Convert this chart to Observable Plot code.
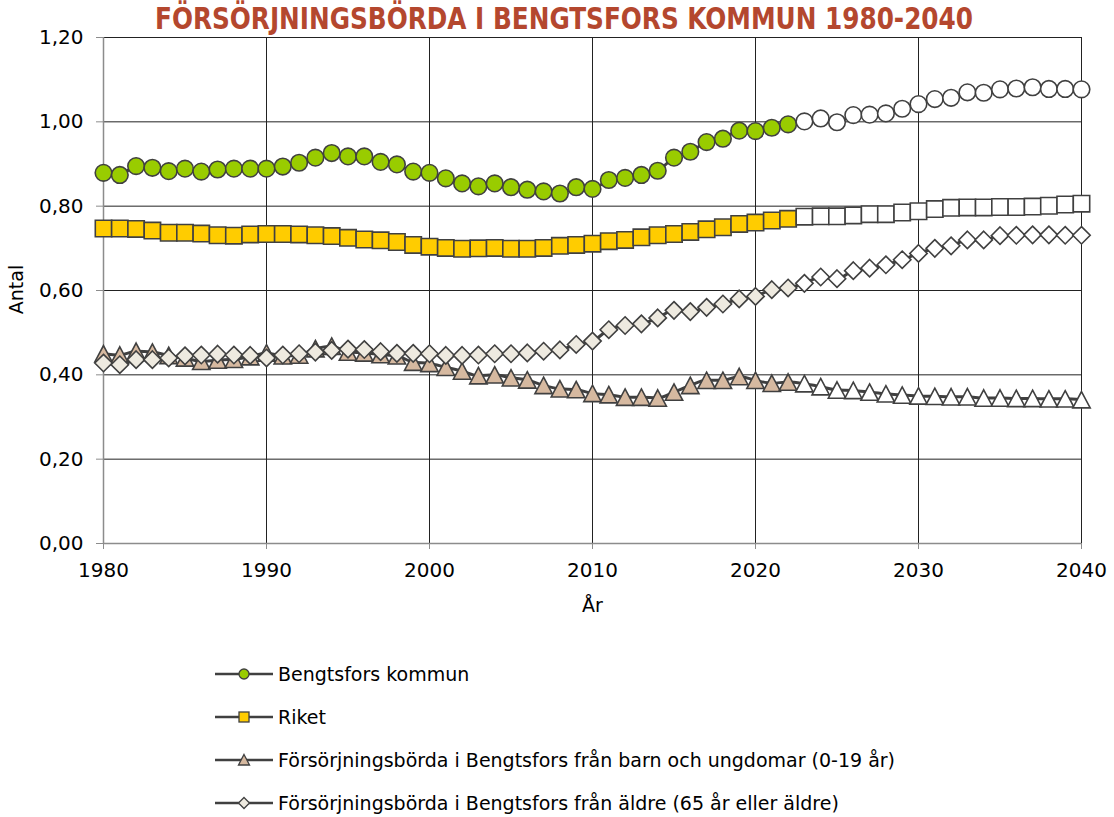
<!DOCTYPE html>
<html>
<head>
<meta charset="utf-8">
<script src="https://cdn.jsdelivr.net/npm/d3@7"></script>
<script src="https://cdn.jsdelivr.net/npm/@observablehq/plot@0.6"></script>
<style>
  html, body { margin: 0; padding: 0; background: #fff; }
  #wrap { position: relative; width: 1114px; height: 817px; overflow: hidden; font-family: "DejaVu Sans", sans-serif; }
  #chart { position: absolute; left: 0; top: 0; }
  #title { position: absolute; left: 0; top: 0; }
  #legend { position: absolute; left: 214px; top: 652px; }
  .row { display: flex; align-items: center; height: 43px; font-size: 19px; color: #000; }
  .row svg { margin-right: 4px; }
</style>
</head>
<body>
<div id="wrap">
  <div id="chart"></div>
  <svg id="title" width="1114" height="36">
    <text x="564" y="29" text-anchor="middle" font-family="'Liberation Sans Narrow','DejaVu Sans Condensed',sans-serif" font-weight="bold" font-size="31" fill="#B4472E" textLength="818" lengthAdjust="spacingAndGlyphs">FÖRSÖRJNINGSBÖRDA I BENGTSFORS KOMMUN 1980-2040</text>
  </svg>
  <div id="legend"></div>
</div>
<script>
// ---- Data ----
const years = d3.range(1980, 2041);
const lastObserved = 2022;

const seriesNames = [
  "Bengtsfors kommun",
  "Riket",
  "Försörjningsbörda i Bengtsfors från barn och ungdomar (0-19 år)",
  "Försörjningsbörda i Bengtsfors från äldre (65 år eller äldre)"
];

const bengtsfors = [
  0.879,0.874,0.895,0.891,0.883,0.889,0.882,0.887,0.889,0.889,
  0.889,0.894,0.903,0.915,0.926,0.918,0.918,0.905,0.899,0.882,
  0.879,0.866,0.854,0.847,0.854,0.845,0.839,0.835,0.830,0.845,
  0.841,0.862,0.867,0.874,0.884,0.915,0.929,0.952,0.960,0.979,
  0.978,0.986,0.994,1.001,1.008,0.999,1.016,1.017,1.020,1.031,
  1.042,1.054,1.057,1.070,1.069,1.077,1.079,1.082,1.078,1.078,
  1.077
];

const riket = [
  0.747,0.747,0.746,0.742,0.737,0.737,0.735,0.731,0.730,0.733,
  0.734,0.734,0.733,0.731,0.729,0.725,0.721,0.719,0.715,0.708,
  0.704,0.701,0.699,0.700,0.701,0.699,0.699,0.701,0.706,0.708,
  0.711,0.717,0.720,0.726,0.731,0.734,0.739,0.745,0.750,0.758,
  0.761,0.766,0.770,0.775,0.776,0.776,0.778,0.781,0.781,0.785,
  0.788,0.793,0.796,0.797,0.797,0.798,0.798,0.799,0.801,0.804,
  0.806
];

const barnUngdom = [
  0.450,0.447,0.456,0.454,0.446,0.440,0.432,0.435,0.437,0.443,
  0.452,0.445,0.447,0.462,0.468,0.454,0.452,0.448,0.445,0.430,
  0.427,0.418,0.409,0.398,0.400,0.393,0.388,0.375,0.367,0.365,
  0.356,0.353,0.347,0.347,0.345,0.359,0.375,0.387,0.387,0.396,
  0.387,0.380,0.383,0.379,0.372,0.364,0.363,0.359,0.355,0.352,
  0.350,0.349,0.348,0.348,0.345,0.345,0.344,0.344,0.343,0.343,
  0.341
];

const aldre = [
  0.428,0.424,0.436,0.436,0.440,0.445,0.447,0.449,0.447,0.446,
  0.440,0.447,0.450,0.454,0.458,0.461,0.460,0.455,0.451,0.451,
  0.450,0.446,0.446,0.447,0.450,0.450,0.452,0.456,0.459,0.472,
  0.480,0.507,0.517,0.521,0.535,0.553,0.550,0.560,0.568,0.580,
  0.586,0.602,0.606,0.617,0.632,0.628,0.647,0.653,0.661,0.673,
  0.688,0.700,0.706,0.720,0.720,0.730,0.731,0.732,0.732,0.731,
  0.731
];

const xTicks = [1980, 1990, 2000, 2010, 2020, 2030, 2040];
const yTicks = [0, 0.2, 0.4, 0.6, 0.8, 1.0, 1.2];

// ---- Styles ----
const fills = ["#99CC00", "#FFCC00", "#D6B9A0", "#EEEAE0"];
const lineColor = "#404040";

// custom marker shapes (half-extent r derived from Plot's size = r²π)
const circleSym = { draw(ctx, size) { const r = Math.sqrt(size / Math.PI); ctx.moveTo(r, 0); ctx.arc(0, 0, r, 0, 2 * Math.PI); } };
const squareSym = { draw(ctx, size) { const r = Math.sqrt(size / Math.PI); ctx.rect(-r, -r, 2 * r, 2 * r); } };
const triSym = { draw(ctx, size) { const r = Math.sqrt(size / Math.PI); ctx.moveTo(0, -r); ctx.lineTo(r * 1.06, r); ctx.lineTo(-r * 1.06, r); ctx.closePath(); } };
const diaSym = { draw(ctx, size) { const r = Math.sqrt(size / Math.PI); ctx.moveTo(0, -r); ctx.lineTo(r, 0); ctx.lineTo(0, r); ctx.lineTo(-r, 0); ctx.closePath(); } };
const symbols = [circleSym, squareSym, triSym, diaSym];
const radii = [8.3, 8.2, 8.2, 8.7];

const allValues = [bengtsfors, riket, barnUngdom, aldre];
const data = allValues.map((vals, s) => years.map((yr, i) => ({ series: s, year: yr, value: vals[i] })));

const fmt = d => d.toFixed(2).replace(".", ",");

const marks = [
  Plot.gridY(yTicks.slice(1, -1), { stroke: "#222", strokeOpacity: 1, strokeWidth: 1 }),
  Plot.gridX(xTicks.slice(1, -1), { stroke: "#222", strokeOpacity: 1, strokeWidth: 1 }),
  Plot.ruleY([1.2], { stroke: "#222" }),
  Plot.ruleX([2040], { stroke: "#222" }),
  Plot.ruleX([1980], { stroke: "#8C8C8C", strokeWidth: 1.5 }),
  Plot.ruleY([0], { stroke: "#8C8C8C", strokeWidth: 1.5 }),
  Plot.axisX({ ticks: xTicks, tickFormat: d => String(d), tickSize: 6, tickPadding: 13, stroke: "#8C8C8C", fill: "#000", label: null }),
  Plot.axisY({ ticks: yTicks, tickFormat: fmt, tickSize: 7, tickPadding: 13, stroke: "#8C8C8C", fill: "#000", label: null }),
  Plot.text(["Antal"], { frameAnchor: "left", dx: -87, dy: -1, rotate: -90, textAnchor: "middle", lineAnchor: "middle", fontSize: 19, fill: "#000" }),
  Plot.text(["År"], { frameAnchor: "bottom", dy: 62, textAnchor: "middle", lineAnchor: "middle", fontSize: 19, fill: "#000" })
];

data.forEach((d, s) => {
  marks.push(Plot.line(d, { x: "year", y: "value", stroke: lineColor, strokeWidth: 3, curve: "monotone-x" }));
  marks.push(Plot.dot(d, {
    x: "year", y: "value", r: radii[s], symbol: symbols[s],
    fill: p => p.year <= lastObserved ? fills[s] : "#FFFFFF",
    stroke: lineColor, strokeWidth: 1.6
  }));
});

const chart = Plot.plot({
  width: 1114,
  height: 630,
  marginLeft: 103,
  marginRight: 33,
  marginTop: 37,
  marginBottom: 87,
  style: { fontFamily: "'DejaVu Sans', sans-serif", fontSize: "20px", color: "#000", background: "transparent", overflow: "visible" },
  x: { domain: [1980, 2040] },
  y: { domain: [0, 1.2] },
  marks
});
document.getElementById("chart").appendChild(chart);

// ---- Legend ----
const legend = document.getElementById("legend");
const legendShapes = [
  `<circle cx="30" cy="10" r="5" />`,
  `<rect x="25" y="5" width="10" height="10" />`,
  `<path d="M30,4.5 L35.5,15 L24.5,15 Z" />`,
  `<path d="M30,4.5 L35.5,10 L30,15.5 L24.5,10 Z" />`
];
seriesNames.forEach((name, s) => {
  const row = document.createElement("div");
  row.className = "row";
  row.innerHTML = `<svg width="60" height="20"><line x1="1" x2="59" y1="10" y2="10" stroke="${lineColor}" stroke-width="2.5"/><g fill="${fills[s]}" stroke="${lineColor}" stroke-width="1.3">${legendShapes[s]}</g></svg><span>${name}</span>`;
  legend.appendChild(row);
});
</script>
</body>
</html>
